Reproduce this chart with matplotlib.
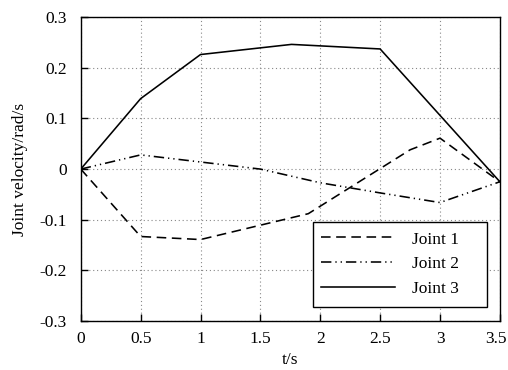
import matplotlib
matplotlib.use("Agg")
import matplotlib.pyplot as plt
import matplotlib.transforms as mtransforms
from matplotlib.patches import Rectangle

t1 = [0, 0.5, 1, 1.9, 2.75, 3, 3.5]
v1 = [0, -0.133, -0.139, -0.088, 0.038, 0.061, -0.025]

t2 = [0, 0.5, 1, 1.5, 2, 2.5, 3, 3.5]
v2 = [0, 0.028, 0.014, 0.0, -0.027, -0.047, -0.066, -0.025]

t3 = [0, 0.5, 1, 1.76, 2.5, 3.5]
v3 = [0, 0.139, 0.226, 0.246, 0.237, -0.025]

xticks = [0, 0.5, 1, 1.5, 2, 2.5, 3, 3.5]
xticklabels = ["0", "0.5", "1", "1.5", "2", "2.5", "3", "3.5"]
yticks = [-0.3, -0.2, -0.1, 0, 0.1, 0.2, 0.3]
yticklabels = ["-0.3", "-0.2", "-0.1", "0", "0.1", "0.2", "0.3"]

plt.rcParams['font.family'] = ['Liberation Serif', 'DejaVu Serif']
plt.rcParams['font.size'] = 12.5

fig = plt.figure(figsize=(5.08, 3.70), dpi=100)
ax = fig.add_axes([0.159, 0.132, 0.825, 0.822])

ax.plot(t1, v1, color='black', lw=1.15, dashes=(6, 3.5), label='Joint 1')
ax.plot(t2, v2, color='black', lw=1.15, dashes=(6.5, 2.5, 0.8, 2.5, 0.8, 2.5), label='Joint 2')
ax.plot(t3, v3, color='black', lw=1.15, label='Joint 3')

ax.set_xlim(0, 3.5)
ax.set_ylim(-0.3, 0.3)
ax.set_xticks(xticks)
ax.set_xticklabels(xticklabels)
ax.set_yticks(yticks)
ax.set_yticklabels(yticklabels)
ax.tick_params(direction='in', length=5, width=1, top=False, right=False)
ax.tick_params(axis='y', pad=10)
ax.tick_params(axis='x', pad=7)
ax.grid(True, color='#888888', linestyle=(0, (1, 2.5)), linewidth=0.8)
for s in ax.spines.values():
    s.set_linewidth(1.0)

# nudge last x tick label so it stays inside the figure
lbl = ax.get_xticklabels()[-1]
lbl.set_transform(lbl.get_transform() + mtransforms.ScaledTranslation(-4/100, 0, fig.dpi_scale_trans))

ax.set_xlabel('t/s', labelpad=4)
ax.set_ylabel('Joint velocity/rad/s', labelpad=8)

frame = Rectangle((0.554, 0.046), 0.415, 0.280, transform=ax.transAxes,
                  facecolor='white', edgecolor='black', lw=1.0, zorder=4)
ax.add_patch(frame)
leg = ax.legend(loc='center left', bbox_to_anchor=(0.573, 0.187), frameon=False,
                handlelength=4.25, borderpad=0, labelspacing=0.5,
                handletextpad=1.0, borderaxespad=0)
leg.set_zorder(5)

fig.savefig('out.png', dpi=100)
